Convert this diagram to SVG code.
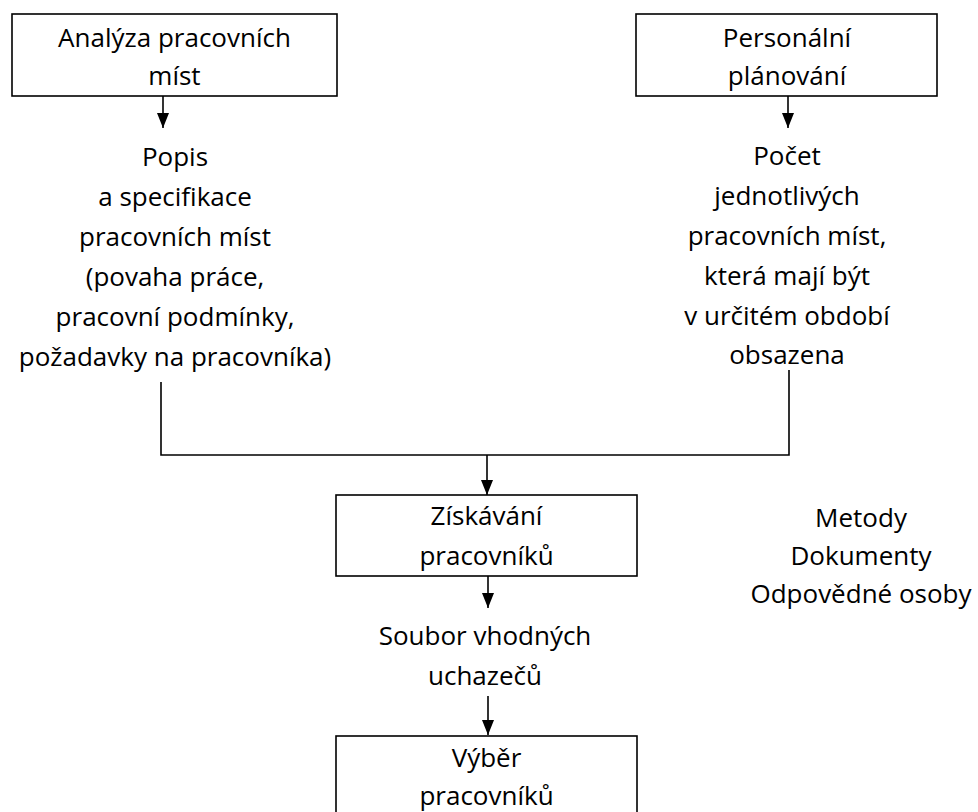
<svg xmlns="http://www.w3.org/2000/svg" width="978" height="812" viewBox="0 0 978 812">
<style>
  .box{fill:#fff;stroke:#000;stroke-width:1.6}
  .ln{fill:none;stroke:#000;stroke-width:1.6}
  text{font-family:"Open Sans","Liberation Sans",sans-serif;font-size:26px;fill:#000;text-anchor:middle}
</style>
<defs>
  <marker id="arr" viewBox="0 0 15 12" markerWidth="15" markerHeight="12" refX="15" refY="6" orient="auto" markerUnits="userSpaceOnUse">
    <path d="M0,0 L15,6 L0,12 Z" fill="#000"/>
  </marker>
</defs>
<rect width="978" height="812" fill="#fff"/>
<g id="connectors">
  <line class="ln" x1="163" y1="96" x2="163" y2="128" marker-end="url(#arr)"/>
  <line class="ln" x1="788" y1="96" x2="788" y2="128" marker-end="url(#arr)"/>
  <polyline class="ln" points="161,382 161,455 789,455 789,370"/>
  <line class="ln" x1="487" y1="455" x2="487" y2="495" marker-end="url(#arr)"/>
  <line class="ln" x1="488" y1="576" x2="488" y2="608" marker-end="url(#arr)"/>
  <line class="ln" x1="488" y1="696" x2="488" y2="735" marker-end="url(#arr)"/>
</g>
<g id="analyza">
  <rect class="box" x="12" y="14" width="325" height="82"/>
  <text x="174.5" y="47">Analýza pracovních</text>
  <text x="174.5" y="85">míst</text>
</g>
<g id="personalni">
  <rect class="box" x="636" y="14" width="301" height="82"/>
  <text x="787" y="47">Personální</text>
  <text x="787" y="85">plánování</text>
</g>
<g id="popis">
  <text x="175" y="166">Popis</text>
  <text x="175" y="206">a specifikace</text>
  <text x="175" y="246">pracovních míst</text>
  <text x="175" y="286">(povaha práce,</text>
  <text x="175" y="326">pracovní podmínky,</text>
  <text x="175" y="366">požadavky na pracovníka)</text>
</g>
<g id="pocet">
  <text x="787" y="165">Počet</text>
  <text x="787" y="205">jednotlivých</text>
  <text x="787" y="245">pracovních míst,</text>
  <text x="787" y="285">která mají být</text>
  <text x="787" y="325">v určitém období</text>
  <text x="787" y="364">obsazena</text>
</g>
<g id="ziskavani">
  <rect class="box" x="336" y="495" width="301" height="81"/>
  <text x="486.5" y="525">Získávání</text>
  <text x="486.5" y="565">pracovníků</text>
</g>
<g id="metody">
  <text x="861" y="527">Metody</text>
  <text x="861" y="565">Dokumenty</text>
  <text x="861" y="603">Odpovědné osoby</text>
</g>
<g id="soubor">
  <text x="485" y="645">Soubor vhodných</text>
  <text x="485" y="685">uchazečů</text>
</g>
<g id="vyber">
  <rect class="box" x="336" y="736" width="301" height="90"/>
  <text x="486.5" y="767">Výběr</text>
  <text x="486.5" y="805">pracovníků</text>
</g>
</svg>
